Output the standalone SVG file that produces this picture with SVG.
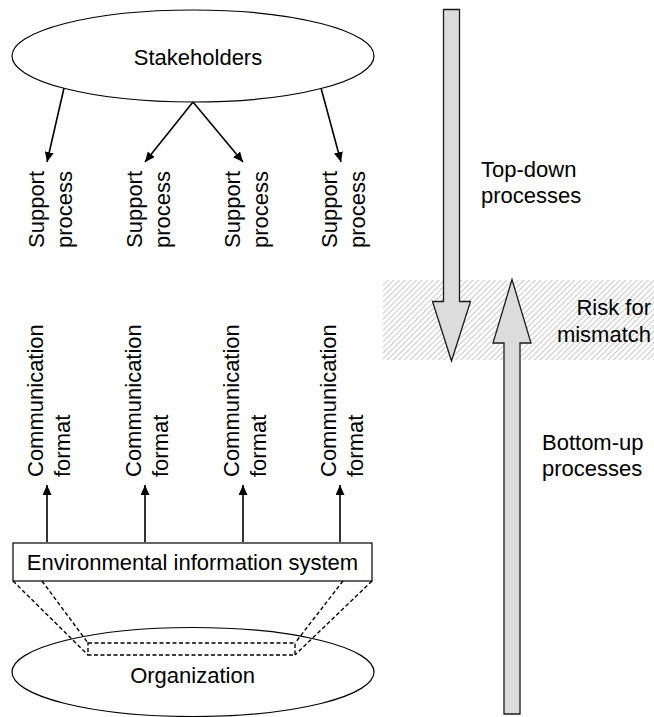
<svg xmlns="http://www.w3.org/2000/svg" width="654" height="717" viewBox="0 0 654 717">
  <style>
    text { font-family: "Liberation Sans", Arial, sans-serif; font-size: 22px; fill: #000; }
    .shape { fill: #fff; stroke: #000; stroke-width: 1.2; }
    .conn { stroke: #000; stroke-width: 1.6; fill: none; }
    .dash { stroke: #000; stroke-width: 1.4; fill: none; stroke-dasharray: 4 2.5; }
    .block { fill: #dcdcdc; stroke: #1a1a1a; stroke-width: 1.3; stroke-linejoin: miter; }
  </style>
  <defs>
    <marker id="head" markerUnits="userSpaceOnUse" markerWidth="12" markerHeight="10" refX="10" refY="4.5" orient="auto">
      <path d="M0,0 L10,4.5 L0,9 Z" fill="#000"/>
    </marker>
    <pattern id="hatch" patternUnits="userSpaceOnUse" width="4" height="4" patternTransform="rotate(45)">
      <rect width="4" height="4" fill="#fff"/>
      <line x1="0" y1="0" x2="0" y2="4" stroke="#bdbdbd" stroke-width="1.6"/>
    </pattern>
  </defs>

  <!-- mismatch zone -->
  <rect id="mismatch-zone" x="383" y="280" width="271" height="80" fill="url(#hatch)"/>

  <!-- top-down block arrow -->
  <g id="top-down">
    <path class="block" d="M443.5,9.5 L459.5,9.5 L459.5,301.5 L470.5,301.5 L451.5,361 L432.5,301.5 L443.5,301.5 Z"/>
    <text x="481" y="177">Top-down</text>
    <text x="481" y="203">processes</text>
  </g>

  <!-- bottom-up block arrow -->
  <g id="bottom-up">
    <path class="block" d="M504,714 L520,714 L520,343 L531,343 L512,279.5 L493,343 L504,343 Z"/>
    <text x="542" y="450">Bottom-up</text>
    <text x="542" y="476">processes</text>
  </g>

  <g id="risk-label">
    <text x="651" y="315" text-anchor="end">Risk for</text>
    <text x="651" y="342" text-anchor="end">mismatch</text>
  </g>

  <!-- stakeholders -->
  <g id="stakeholders">
    <ellipse class="shape" cx="193" cy="56" rx="181" ry="46"/>
    <text x="198" y="65" text-anchor="middle">Stakeholders</text>
  </g>

  <!-- support processes -->
  <g id="support-1" transform="translate(47,248) rotate(-90)">
    <text x="0" y="-3">Support</text>
    <text x="0" y="25">process</text>
  </g>
  <g id="support-2" transform="translate(145,248) rotate(-90)">
    <text x="0" y="-3">Support</text>
    <text x="0" y="25">process</text>
  </g>
  <g id="support-3" transform="translate(243,248) rotate(-90)">
    <text x="0" y="-3">Support</text>
    <text x="0" y="25">process</text>
  </g>
  <g id="support-4" transform="translate(340,248) rotate(-90)">
    <text x="0" y="-3">Support</text>
    <text x="0" y="25">process</text>
  </g>

  <!-- communication formats -->
  <g id="format-1" transform="translate(47,477) rotate(-90)">
    <text x="0" y="-4">Communication</text>
    <text x="0" y="23">format</text>
  </g>
  <g id="format-2" transform="translate(145,477) rotate(-90)">
    <text x="0" y="-4">Communication</text>
    <text x="0" y="23">format</text>
  </g>
  <g id="format-3" transform="translate(243,477) rotate(-90)">
    <text x="0" y="-4">Communication</text>
    <text x="0" y="23">format</text>
  </g>
  <g id="format-4" transform="translate(340,477) rotate(-90)">
    <text x="0" y="-4">Communication</text>
    <text x="0" y="23">format</text>
  </g>

  <!-- organization -->
  <g id="organization">
    <ellipse class="shape" cx="193" cy="672" rx="181" ry="44.5"/>
    <text x="192.5" y="683" text-anchor="middle">Organization</text>
  </g>

  <!-- environmental information system -->
  <g id="eis">
    <rect class="shape" x="13" y="543" width="359" height="38"/>
    <text x="192.5" y="570" text-anchor="middle">Environmental information system</text>
  </g>

  <!-- connectors -->
  <g id="connectors">
    <line class="conn" x1="64" y1="88" x2="47" y2="162" marker-end="url(#head)"/>
    <line class="conn" x1="193" y1="102" x2="145" y2="162" marker-end="url(#head)"/>
    <line class="conn" x1="193" y1="102" x2="243" y2="162" marker-end="url(#head)"/>
    <line class="conn" x1="321" y1="88" x2="341" y2="162" marker-end="url(#head)"/>

    <line class="conn" x1="47" y1="542" x2="47" y2="485" marker-end="url(#head)"/>
    <line class="conn" x1="145" y1="542" x2="145" y2="485" marker-end="url(#head)"/>
    <line class="conn" x1="243" y1="542" x2="243" y2="485" marker-end="url(#head)"/>
    <line class="conn" x1="340" y1="542" x2="340" y2="485" marker-end="url(#head)"/>

    <!-- projection of the information system onto the organization -->
    <line class="dash" x1="13" y1="581" x2="88" y2="655"/>
    <line class="dash" x1="42" y1="581" x2="88" y2="643"/>
    <line class="dash" x1="372" y1="581" x2="295" y2="655"/>
    <line class="dash" x1="343" y1="581" x2="295" y2="643"/>
    <rect class="dash" x="88" y="643" width="207" height="12"/>
  </g>
</svg>
